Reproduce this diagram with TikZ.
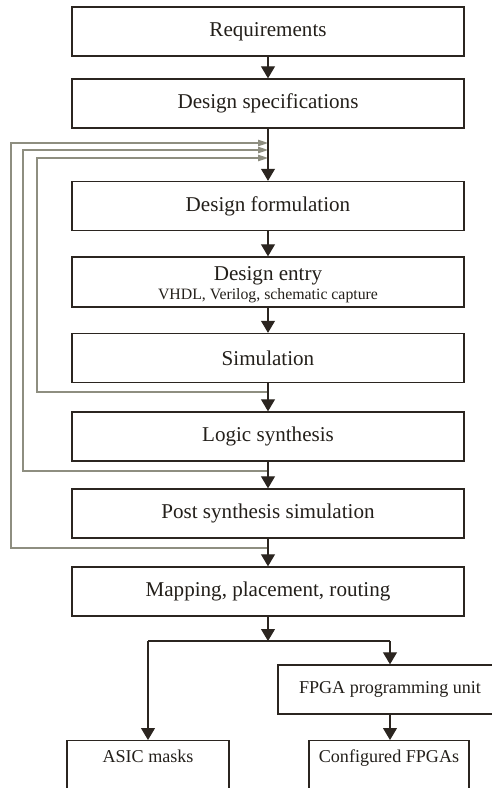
\documentclass[tikz,border=0pt]{standalone}
\usepackage{fontspec}
\setmainfont{Liberation Serif}
\usetikzlibrary{arrows.meta}
\definecolor{boxline}{HTML}{2B2520}
\definecolor{loopgray}{HTML}{8E8E80}
\definecolor{inktext}{HTML}{231F1A}

\tikzset{
  stage/.style={draw=boxline, line width=0.8pt, minimum width=7.84cm, minimum height=0.98cm,
    inner sep=0pt, text=inktext, font=\fontsize{12}{14}\selectfont},
  target/.style={stage, font=\fontsize{10.3}{12}\selectfont},
  flow/.style={draw=boxline, line width=0.6pt, -{Triangle[length=0.24cm,width=0.28cm]}},
  link/.style={draw=boxline, line width=0.6pt},
  feedback/.style={draw=loopgray, line width=0.6pt, -{Triangle[length=0.2cm,width=0.13cm]}}
}

\begin{document}
\begin{tikzpicture}[x=0.02cm, y=-0.02cm]
  \useasboundingbox (0,0) rectangle (492,788);
  \clip (0,0) rectangle (492,788);

  % ---------- design flow ----------
  \node[stage] (req)   at (268,31.5)  {Requirements};
  \node[stage] (spec)  at (268,103.5) {Design specifications};
  \node[stage] (form)  at (268,206)   {Design formulation};
  \node[stage, align=center, text height=0.84cm, text depth=0.16cm] (entry) at (268,282)
    {Design entry\\[-3.5pt]{\fontsize{9}{10}\selectfont VHDL, Verilog, schematic capture}};
  \node[stage] (sim)   at (268,358)   {Simulation};
  \node[stage] (logic) at (268,436.5) {Logic synthesis};
  \node[stage] (post)  at (268,513.5) {Post synthesis simulation};
  \node[stage] (map)   at (268,591.5) {Mapping, placement, routing};

  % ---------- targets (run off the page) ----------
  \node[target, minimum width=4.48cm] (prog) at (390,689.5) {FPGA programming unit};
  \node[target, minimum width=3.24cm, anchor=north, text height=0.44cm, text depth=1cm]
    (asic) at (148,740) {ASIC masks};
  \node[target, minimum width=3.2cm, anchor=north, text height=0.44cm, text depth=1cm]
    (conf) at (389,740) {Configured FPGAs};

  % ---------- feedback loops ----------
  \coordinate (tapA) at (268,392);
  \coordinate (tapB) at (268,471);
  \coordinate (tapC) at (268,548);
  \coordinate (inA) at (268,158);
  \coordinate (inB) at (268,150);
  \coordinate (inC) at (268,143);
  \draw[feedback] (tapA) -- ++(-231,0) |- (inA);
  \draw[feedback] (tapB) -- ++(-245,0) |- (inB);
  \draw[feedback] (tapC) -- ++(-257,0) |- (inC);

  % ---------- forward arrows ----------
  \draw[flow] (req) -- (spec);
  \draw[flow] (spec) -- (form);
  \draw[flow] (form) -- (entry);
  \draw[flow] (entry) -- (sim);
  \draw[flow] (sim) -- (logic);
  \draw[flow] (logic) -- (post);
  \draw[flow] (post) -- (map);

  % split below mapping
  \coordinate (split)  at (268,641);
  \coordinate (splitL) at (148,641);
  \coordinate (splitR) at (390,641);
  \draw[flow] (map) -- (split);
  \draw[link] (splitL) -- (splitR);
  \draw[flow] (splitL) -- (asic.north);
  \draw[flow] (splitR) -- (prog);
  \draw[flow] (prog) -- (prog.south |- conf.north);
\end{tikzpicture}
\end{document}
